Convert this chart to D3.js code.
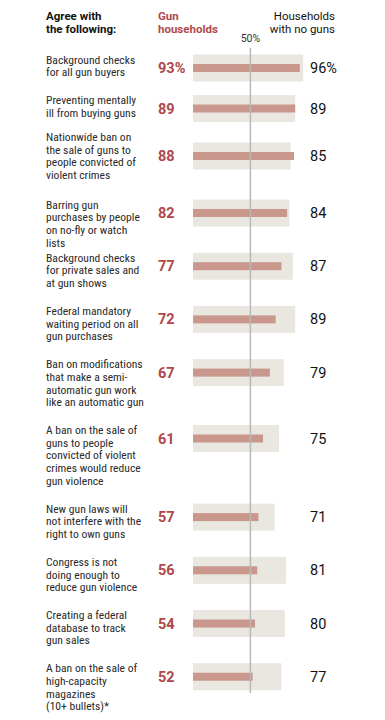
<html>
<head>
    <style>
        body {
            margin: 0;
            background: #fff;
        }
        text {
            font-family: Roboto, "Liberation Sans", sans-serif;
        }
        text.label {
            font-family: "Roboto Condensed", Roboto, sans-serif;
        }
    </style>
    <script src="https://d3js.org/d3.v7.min.js"></script>
</head>
<body>
    <svg id="chart"></svg>
    <script>
        // labels, one entry per line as wrapped in the original
        var labels = [
            ["Background checks", "for all gun buyers"],
            ["Preventing mentally", "ill from buying guns"],
            ["Nationwide ban on", "the sale of guns to", "people convicted of", "violent crimes"],
            ["Barring gun", "purchases by people", "on no-fly or watch", "lists"],
            ["Background checks", "for private sales and", "at gun shows"],
            ["Federal mandatory", "waiting period on all", "gun purchases"],
            ["Ban on modifications", "that make a semi-", "automatic gun work", "like an automatic gun"],
            ["A ban on the sale of", "guns to people", "convicted of violent", "crimes would reduce", "gun violence"],
            ["New gun laws will", "not interfere with the", "right to own guns"],
            ["Congress is not", "doing enough to", "reduce gun violence"],
            ["Creating a federal", "database to track", "gun sales"],
            ["A ban on the sale of", "high-capacity", "magazines", "(10+ bullets)*"]
        ];
        var gunHouseholds = [93, 89, 88, 82, 77, 72, 67, 61, 57, 56, 54, 52];
        var noGunHouseholds = [96, 89, 85, 84, 87, 89, 79, 75, 71, 81, 80, 77];

        var width = 385, height = 720;
        var lineH = 12.7;

        var svg = d3.select("#chart")
            .attr("width", width)
            .attr("height", height);

        var x = d3.scaleLinear()
            .domain([0, 100])
            .range([193, 307.8]);

        // row layout follows the label heights
        var rowY = [];
        var y = 68;
        labels.forEach(function (l, i) {
            if (i === 2) y += 7;        // third label is centred on its bar
            rowY.push(y);
            var n = l.length;
            if (i === 2) n = 3.3;
            if (i === 3) n = 3;         // last line runs into the gap
            y += lineH * (n - 1) + 27.8;
        });
        var labelOffset = labels.map(function (l, i) {
            return i === 2 ? -lineH * (l.length - 1) / 2 : -8.5;
        });

        var red = "#b0484b";

        // headers
        function header(lines, xPos, anchor, weight, fill) {
            svg.append("text")
                .attr("y", 20)
                .attr("font-size", 11.5)
                .attr("font-weight", weight)
                .attr("fill", fill)
                .attr("text-anchor", anchor)
                .selectAll("tspan").data(lines).enter()
                .append("tspan")
                .attr("x", xPos)
                .attr("dy", function (d, i) { return i ? 12.5 : 0; })
                .text(function (d) { return d; });
        }
        header(["Agree with", "the following:"], 46, "start", "bold", "#121212");
        header(["Gun", "households"], 158, "start", "bold", red);
        header(["Households", "with no guns"], 335, "end", "normal", "#121212");

        var rows = svg.selectAll("g.row")
            .data(labels)
            .enter().append("g")
            .attr("class", "row")
            .attr("transform", function (d, i) { return "translate(0," + rowY[i] + ")"; });

        rows.append("rect")
            .attr("x", x(0))
            .attr("y", -13.5)
            .attr("height", 27)
            .attr("width", function (d, i) { return x(noGunHouseholds[i]) - x(0); })
            .attr("fill", "#e9e7e0");

        rows.append("rect")
            .attr("x", x(0))
            .attr("y", -4)
            .attr("height", 8)
            .attr("width", function (d, i) { return x(gunHouseholds[i]) - x(0); })
            .attr("fill", "#c9978c");

        rows.append("text")
            .attr("x", 158)
            .attr("dy", "0.35em")
            .attr("font-size", 14.5)
            .attr("font-weight", "bold")
            .attr("fill", red)
            .text(function (d, i) { return gunHouseholds[i] + (i === 0 ? "%" : ""); });

        rows.append("text")
            .attr("x", 310)
            .attr("dy", "0.35em")
            .attr("font-size", 14.5)
            .attr("fill", "#121212")
            .text(function (d, i) { return noGunHouseholds[i] + (i === 0 ? "%" : ""); });

        rows.append("text")
            .attr("class", "label")
            .attr("font-size", 11.6)
            .attr("fill", "#2a2a2a")
            .attr("y", function (d, i) { return labelOffset[i]; })
            .selectAll("tspan")
            .data(function (d) { return d; })
            .enter().append("tspan")
            .attr("x", 46)
            .attr("dy", function (d, i) { return i ? lineH : "0.35em"; })
            .text(function (d) { return d; });

        // 50% reference line
        svg.append("line")
            .attr("x1", x(50)).attr("x2", x(50))
            .attr("y1", 48).attr("y2", 693)
            .attr("stroke", "#b8b8b8")
            .attr("stroke-width", 1.5);

        svg.append("text")
            .attr("x", x(50))
            .attr("y", 42)
            .attr("text-anchor", "middle")
            .attr("font-size", 10.5)
            .attr("fill", "#333")
            .text("50%");
    </script>
</body>
</html>
